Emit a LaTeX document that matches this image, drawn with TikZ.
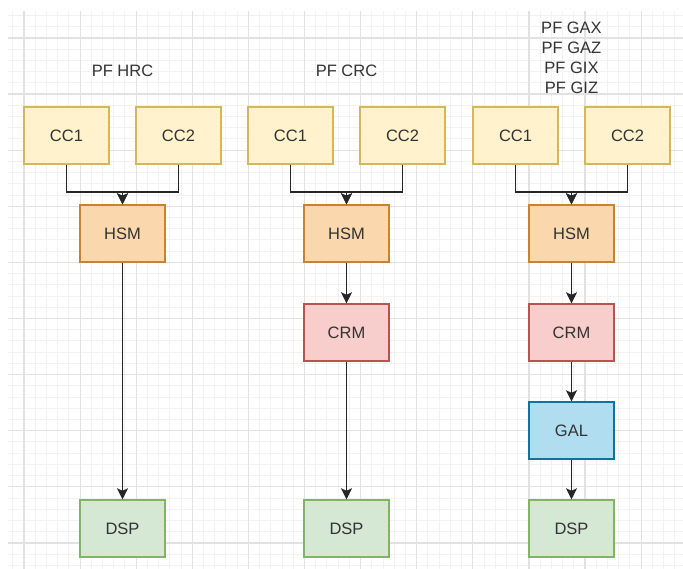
\documentclass[tikz,border=0pt]{standalone}
\usepackage{fontspec}
\setmainfont{Liberation Sans}
\usetikzlibrary{arrows.meta}
\definecolor{ylwF}{HTML}{FFF2CC}\definecolor{ylwD}{HTML}{D6B656}
\definecolor{orgF}{HTML}{FAD7AC}\definecolor{orgD}{HTML}{C9822F}
\definecolor{redF}{HTML}{F8CECC}\definecolor{redD}{HTML}{B85450}
\definecolor{bluF}{HTML}{B1DDF0}\definecolor{bluD}{HTML}{10739E}
\definecolor{grnF}{HTML}{D5E8D4}\definecolor{grnD}{HTML}{82B366}
\definecolor{txt}{HTML}{333333}
\definecolor{edge}{HTML}{262626}
\definecolor{gminor}{HTML}{F2F2F2}
\definecolor{gmajor}{HTML}{E2E2E2}
\begin{document}
\begin{tikzpicture}[x=1pt,y=-1pt,
  every node/.style={font=\fontsize{16.5}{20}\selectfont, text=txt},
  box/.style={draw, rectangle, minimum width=85pt, minimum height=57pt, line width=1.4pt, inner sep=0pt},
  cc/.style={box, fill=ylwF, draw=ylwD},
  hsm/.style={box, fill=orgF, draw=orgD},
  crm/.style={box, fill=redF, draw=redD},
  gal/.style={box, fill=bluF, draw=bluD},
  dsp/.style={box, fill=grnF, draw=grnD},
  arr/.style={draw=edge, line width=1.4pt, -{Stealth[length=11pt, width=11pt, inset=2.5pt]}},
  title/.style={align=center, inner sep=0pt}
]
\useasboundingbox (0,0) rectangle (683,569);
\fill[white] (0,0) rectangle (683,569);
% grid
\foreach \i in {-1,...,58} {
  \pgfmathsetmacro\gx{24+11.22*\i}
  \draw[gminor, line width=1pt] (\gx,11) -- (\gx,569);
}
\foreach \j in {-2,...,47} {
  \pgfmathsetmacro\gy{38+11.22*\j}
  \draw[gminor, line width=1pt] (8,\gy) -- (683,\gy);
}
\foreach \i in {0,...,11} {
  \pgfmathsetmacro\gx{24+56.1*\i}
  \draw[gmajor, line width=1.2pt] (\gx,11) -- (\gx,569);
}
\foreach \j in {0,...,9} {
  \pgfmathsetmacro\gy{38+56.1*\j}
  \draw[gmajor, line width=1.2pt] (8,\gy) -- (683,\gy);
}
% column 1
\node[title] (t1) at (122.5,71) {PF HRC};
\node[cc] (a1) at (66.5,135.5) {CC1};
\node[cc] (b1) at (178.5,135.5) {CC2};
\node[hsm] (h1) at (122.5,233.5) {HSM};
\node[dsp] (d1) at (122.5,528.5) {DSP};
\coordinate (j1) at (122.5,192);
\draw[arr] (a1.south) |- (j1) -- (h1.north);
\draw[arr] (b1.south) |- (j1) -- (h1.north);
\draw[arr] (h1) -- (d1);
% column 2
\node[title] (t2) at (346.5,71) {PF CRC};
\node[cc] (a2) at (290.5,135.5) {CC1};
\node[cc] (b2) at (402.5,135.5) {CC2};
\node[hsm] (h2) at (346.5,233.5) {HSM};
\node[crm] (c2) at (346.5,332.5) {CRM};
\node[dsp] (d2) at (346.5,528.5) {DSP};
\coordinate (j2) at (346.5,192);
\draw[arr] (a2.south) |- (j2) -- (h2.north);
\draw[arr] (b2.south) |- (j2) -- (h2.north);
\draw[arr] (h2) -- (c2);
\draw[arr] (c2) -- (d2);
% column 3
\node[title] (t3) at (571.5,58) {PF GAX\\PF GAZ\\PF GIX\\PF GIZ};
\node[cc] (a3) at (515.5,135.5) {CC1};
\node[cc] (b3) at (627.5,135.5) {CC2};
\node[hsm] (h3) at (571.5,233.5) {HSM};
\node[crm] (c3) at (571.5,332.5) {CRM};
\node[gal] (g3) at (571.5,430.5) {GAL};
\node[dsp] (d3) at (571.5,528.5) {DSP};
\coordinate (j3) at (571.5,192);
\draw[arr] (a3.south) |- (j3) -- (h3.north);
\draw[arr] (b3.south) |- (j3) -- (h3.north);
\draw[arr] (h3) -- (c3);
\draw[arr] (c3) -- (g3);
\draw[arr] (g3) -- (d3);
\end{tikzpicture}
\end{document}
